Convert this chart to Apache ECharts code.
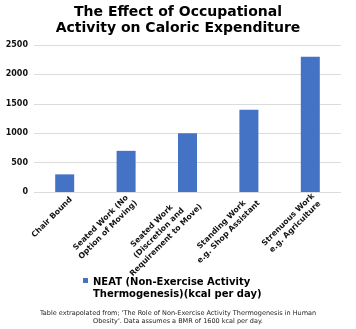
<!DOCTYPE html>
<html><head><meta charset="utf-8">
<script src="https://cdn.jsdelivr.net/npm/echarts@6/dist/echarts.min.js"></script>
<style>html,body{margin:0;padding:0;background:#fff}#c{width:356px;height:329px}</style>
</head><body><div id="c"></div>
<script>
const categories = ["Chair Bound", "Seated Work (No\nOption of Moving)", "Seated Work\n(Discretion and\nRequirement to Move)", "Standing Work\ne.g. Shop Assistant", "Strenuous Work\ne.g. Agriculture"];
const neatValues = [300, 700, 1000, 1400, 2300];
const seriesName = "NEAT (Non-Exercise Activity\nThermogenesis)(kcal per day)";
const titleText = "The Effect of Occupational\nActivity on Caloric Expenditure";
const footnote = "Table extrapolated from; 'The Role of Non-Exercise Activity Thermogenesis in Human\nObesity'. Data assumes a BMR of 1600 kcal per day.";
const F = "DejaVu Sans, Verdana, sans-serif";
const chart = echarts.init(document.getElementById('c'), null, {renderer: 'canvas'});
chart.setOption({
  animation: false,
  title: {
    text: titleText, left: 'center', top: 4, padding: 0,
    textStyle: {fontFamily: F, fontWeight: 'bold', fontSize: 14, lineHeight: 16, color: '#000'}
  },
  graphic: [{
    type: 'text', x: 178, y: 309,
    style: {text: footnote, fontFamily: F, fontSize: 6.5, lineHeight: 8, fill: '#222', align: 'center', verticalAlign: 'top'}
  }],
  legend: {
    data: [seriesName], left: 83, top: 276, padding: 0, itemWidth: 5, itemHeight: 24,
    icon: 'path://M0,0L0,0 M0,2L5,2L5,7L0,7Z M0,24L0,24',
    textStyle: {fontFamily: F, fontWeight: 'bold', fontSize: 10, lineHeight: 12, color: '#000'}
  },
  grid: {left: 34, width: 307, top: 45, height: 147},
  xAxis: {
    type: 'category', data: categories,
    axisLine: {show: false}, axisTick: {show: false},
    axisLabel: {
      rotate: 45, interval: 0, margin: 0, padding: [18, 0, 0, 0],
      formatter: v => v.split('\n').map(l => '{c|' + l + '}').join('\n'),
      rich: {c: {align: 'center', fontFamily: F, fontWeight: 'bold', fontSize: 7.8, lineHeight: 10, color: '#111'}}
    }
  },
  yAxis: {
    type: 'value', min: 0, max: 2500, interval: 500,
    axisLine: {show: false}, axisTick: {show: false},
    splitLine: {lineStyle: {color: '#dcdcdc', width: 1}},
    axisLabel: {formatter: v => String(v), fontFamily: F, fontWeight: 'bold', fontSize: 8, color: '#111', margin: 6}
  },
  series: [{
    name: seriesName, type: 'bar', data: neatValues, barWidth: 19,
    itemStyle: {color: '#4472C4'}
  }]
});
</script></body></html>
